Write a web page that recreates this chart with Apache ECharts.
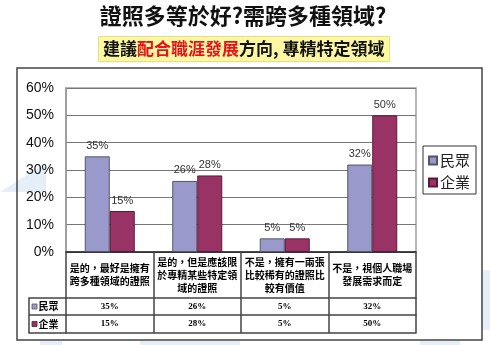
<!DOCTYPE html>
<html>
<head>
<meta charset="utf-8">
<script src="https://cdn.jsdelivr.net/npm/echarts@6/dist/echarts.min.js"></script>
<style>
  html, body { margin: 0; padding: 0; background: #fff; }
  #chart { width: 490px; height: 345px; }
</style>
</head>
<body>
<div id="chart"></div>
<script>
const categories = [
  '是的，最好是擁有\n跨多種領域的證照',
  '是的，但是應該限\n於專精某些特定領\n域的證照',
  '不是，擁有一兩張\n比較稀有的證照比\n較有價值',
  '不是，視個人職場\n發展需求而定'
];
const seriesNames = ['民眾', '企業'];
const publicValues = [35, 26, 5, 32];
const enterpriseValues = [15, 28, 5, 50];
const seriesColors = ['#9999cc', '#993366'];
const seriesBorders = ['#555566', '#5a1838'];
const yMin = 0, yMax = 60, yStep = 10;

const narrow = '"Liberation Sans Narrow", "Liberation Sans", sans-serif';
const cjk = '"Noto Sans CJK TC", sans-serif';
const tableLine = '#444';

const chart = echarts.init(document.getElementById('chart'), null, { renderer: 'canvas' });

const rowHeaderGraphics = [];
const rowCenters = [306.5, 324];
seriesNames.forEach((name, i) => {
  rowHeaderGraphics.push({
    type: 'rect', shape: { x: 32, y: rowCenters[i] - 2.5, width: 5, height: 5 },
    style: { fill: seriesColors[i], stroke: seriesBorders[i], lineWidth: 0.8 }, z: 10
  });
  rowHeaderGraphics.push({
    type: 'text', x: 38.5, y: rowCenters[i],
    style: { text: name, font: 'bold 10px ' + cjk, fill: '#000', verticalAlign: 'middle' }, z: 10
  });
});

const option = {
  animation: false,
  backgroundColor: '#fff',
  title: [
    {
      text: '證照多等於好?需跨多種領域?',
      left: 238, top: 0, textAlign: 'center',
      textStyle: { fontFamily: cjk, fontSize: 22, fontWeight: 'bold', color: '#111' }
    },
    {
      text: '{a|建議}{b|配合職涯發展}{a|方向, 專精特定領域}',
      left: 98, top: 36,
      padding: [4, 5, 4, 5],
      backgroundColor: '#fbf7a2',
      borderColor: '#e6df7a',
      borderWidth: 1,
      textStyle: {
        rich: {
          a: { fontFamily: cjk, fontSize: 17, fontWeight: 'bold', color: '#111', lineHeight: 18 },
          b: { fontFamily: cjk, fontSize: 17, fontWeight: 'bold', color: '#e5141c', lineHeight: 18 }
        }
      }
    }
  ],
  graphic: [
    { type: 'polygon', shape: { points: [[0, 192], [46, 163], [46, 192]] }, style: { fill: '#e6eef8' }, z: -10 },
    { type: 'rect', shape: { x: 482, y: 270, width: 8, height: 60 }, style: { fill: '#e6eef8' }, z: -10 },
    { type: 'rect', shape: { x: 40, y: 341, width: 22, height: 4 }, style: { fill: '#e6eef8' }, z: -10 },
    { type: 'rect', shape: { x: 140, y: 341, width: 100, height: 4 }, style: { fill: '#e6eef8' }, z: -10 },
    { type: 'rect', shape: { x: 420, y: 341, width: 40, height: 4 }, style: { fill: '#e6eef8' }, z: -10 },
    { type: 'rect', shape: { x: 17, y: 68, width: 465, height: 272 },
      style: { fill: null, stroke: '#444', lineWidth: 1.5 }, z: 5 },
    { type: 'polyline', shape: { points: [[66, 298], [29, 298], [29, 333], [66, 333]] },
      style: { stroke: tableLine, lineWidth: 1.5, fill: null }, z: 10 },
    { type: 'line', shape: { x1: 29, y1: 315, x2: 66, y2: 315 },
      style: { stroke: tableLine, lineWidth: 1.5 }, z: 10 }
  ].concat(rowHeaderGraphics),
  legend: {
    orient: 'vertical',
    left: 423, top: 146,
    padding: [7, 6, 4, 5],
    itemWidth: 8, itemHeight: 8, itemGap: 7,
    icon: 'rect',
    borderColor: '#333', borderWidth: 1,
    textStyle: { fontFamily: cjk, fontSize: 15, color: '#222', padding: [0, 0, 0, -2] },
    data: seriesNames
  },
  grid: {
    left: 66, top: 88, width: 350, height: 164,
    show: true, borderColor: '#a0a0a0', borderWidth: 1.5, backgroundColor: 'transparent'
  },
  xAxis: [
    {
      type: 'category', data: categories, gridIndex: 0, position: 'bottom',
      axisLine: { show: true, lineStyle: { color: '#222', width: 1.5 } },
      axisTick: { show: true, length: 81, inside: false, alignWithLabel: false,
        lineStyle: { color: tableLine, width: 1.5 } },
      axisLabel: { interval: 0, margin: 23, verticalAlign: 'middle', fontFamily: cjk,
        fontSize: 10, fontWeight: 'bold', color: '#000', lineHeight: 13 },
      splitLine: { show: false }
    },
    {
      type: 'category', data: categories, gridIndex: 0, position: 'bottom', offset: 46,
      axisLine: { show: true, lineStyle: { color: tableLine, width: 1.5 } },
      axisTick: { show: false },
      axisLabel: { interval: 0, margin: 8.5, verticalAlign: 'middle',
        fontFamily: '"Liberation Serif", serif', fontSize: 9, fontWeight: 'bold', color: '#000',
        formatter: (v, i) => publicValues[i] + '%' }
    },
    {
      type: 'category', data: categories, gridIndex: 0, position: 'bottom', offset: 63,
      axisLine: { show: true, lineStyle: { color: tableLine, width: 1.5 } },
      axisTick: { show: false },
      axisLabel: { interval: 0, margin: 9, verticalAlign: 'middle',
        fontFamily: '"Liberation Serif", serif', fontSize: 9, fontWeight: 'bold', color: '#000',
        formatter: (v, i) => enterpriseValues[i] + '%' }
    },
    {
      type: 'category', data: categories, gridIndex: 0, position: 'bottom', offset: 81,
      axisLine: { show: true, lineStyle: { color: tableLine, width: 1.5 } },
      axisTick: { show: false },
      axisLabel: { show: false }
    }
  ],
  yAxis: {
    type: 'value', min: yMin, max: yMax, interval: yStep,
    axisLine: { show: true, lineStyle: { color: '#999', width: 1.5 } },
    axisTick: { show: false },
    axisLabel: { formatter: '{value}%', fontFamily: narrow, fontSize: 14, color: '#111', margin: 12 },
    splitLine: { show: true, lineStyle: { color: '#777', width: 1 } }
  },
  series: [
    {
      name: seriesNames[0], type: 'bar', data: publicValues, xAxisIndex: 0,
      barWidth: 25, barGap: '0%',
      itemStyle: { color: seriesColors[0], borderColor: seriesBorders[0], borderWidth: 1 },
      label: { show: true, position: 'top', distance: 5, formatter: '{c}%',
        fontFamily: narrow, fontSize: 11, color: '#333' }
    },
    {
      name: seriesNames[1], type: 'bar', data: enterpriseValues, xAxisIndex: 0,
      barWidth: 25, barGap: '0%',
      itemStyle: { color: seriesColors[1], borderColor: seriesBorders[1], borderWidth: 1 },
      label: { show: true, position: 'top', distance: 5, formatter: '{c}%',
        fontFamily: narrow, fontSize: 11, color: '#333' }
    }
  ]
};
chart.setOption(option);
</script>
</body>
</html>
